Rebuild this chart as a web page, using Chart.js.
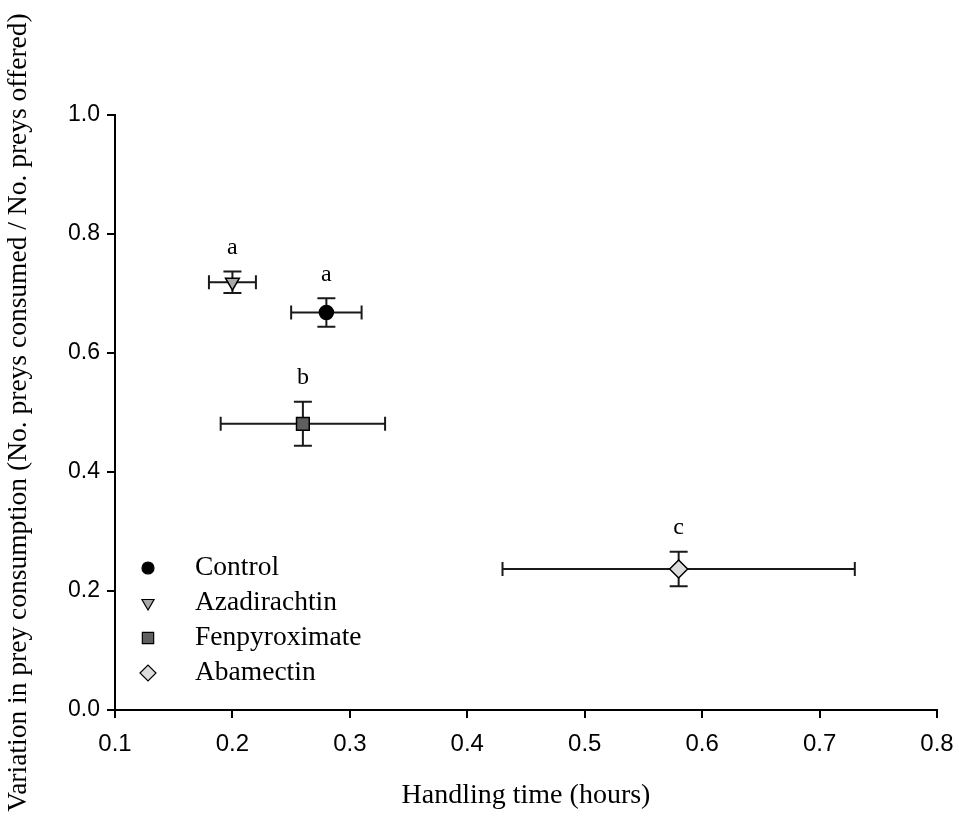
<!DOCTYPE html>
<html>
<head>
<meta charset="utf-8">
<script src="https://cdn.jsdelivr.net/npm/chart.js@4.4.1/dist/chart.umd.min.js"></script>
<style>
  html, body { margin: 0; padding: 0; background: #fff; }
  #wrap { width: 959px; height: 821px; }
</style>
</head>
<body>
<div id="wrap"><canvas id="chart" width="959" height="821"></canvas></div>
<script>
// --- Data ---
const treatments = ['Control', 'Azadirachtin', 'Fenpyroximate', 'Abamectin'];
const handlingTime = [0.28, 0.20, 0.26, 0.58];      // x (hours)
const handlingErr = [0.03, 0.02, 0.07, 0.15];       // x error
const consumption = [0.668, 0.719, 0.481, 0.237];   // y
const consumptionErr = [0.024, 0.018, 0.037, 0.029]; // y error
const groupLetters = ['a', 'a', 'b', 'c'];
const xTicks = [0.1, 0.2, 0.3, 0.4, 0.5, 0.6, 0.7, 0.8];
const yTicks = [0.0, 0.2, 0.4, 0.6, 0.8, 1.0];

// marker look for each treatment
const markerStyle = ['circle', 'triangle', 'rect', 'rectRot'];
const markerRotation = [0, 180, 0, 0];
const markerFill = ['#000000', '#a8a8a8', '#5f5f5f', '#dcdcdc'];
const markerRadius = [7, 8, 9, 9];

const serif = '"Liberation Serif", "Times New Roman", serif';

const datasets = treatments.map((name, i) => ({
    label: name,
    data: [{ x: handlingTime[i], y: consumption[i] }],
    pointStyle: markerStyle[i],
    rotation: markerRotation[i],
    backgroundColor: markerFill[i],
    borderColor: '#000',
    borderWidth: 1.5,
    pointRadius: markerRadius[i],
    pointHoverRadius: markerRadius[i]
}));

// --- error bars, behind the markers ---
const errorBars = {
    id: 'errorBars',
    beforeDatasetsDraw(chart) {
        const { ctx, scales: { x, y } } = chart;
        ctx.save();
        ctx.strokeStyle = '#1a1a1a';
        ctx.lineWidth = 2;
        treatments.forEach((_, i) => {
            const px = x.getPixelForValue(handlingTime[i]);
            const py = y.getPixelForValue(consumption[i]);
            const x0 = x.getPixelForValue(handlingTime[i] - handlingErr[i]);
            const x1 = x.getPixelForValue(handlingTime[i] + handlingErr[i]);
            const y0 = y.getPixelForValue(consumption[i] - consumptionErr[i]);
            const y1 = y.getPixelForValue(consumption[i] + consumptionErr[i]);
            ctx.beginPath();
            // horizontal
            ctx.moveTo(x0, py); ctx.lineTo(x1, py);
            ctx.moveTo(x0, py - 7); ctx.lineTo(x0, py + 7);
            ctx.moveTo(x1, py - 7); ctx.lineTo(x1, py + 7);
            // vertical
            ctx.moveTo(px, y0); ctx.lineTo(px, y1);
            ctx.moveTo(px - 9, y0); ctx.lineTo(px + 9, y0);
            ctx.moveTo(px - 9, y1); ctx.lineTo(px + 9, y1);
            ctx.stroke();
        });
        ctx.restore();
    }
};

// --- significance letters and the in-plot legend ---
const annotations = {
    id: 'annotations',
    afterDatasetsDraw(chart) {
        const { ctx, scales: { x, y } } = chart;
        ctx.save();
        ctx.fillStyle = '#000';
        ctx.textAlign = 'center';
        ctx.textBaseline = 'middle';
        ctx.font = '24px ' + serif;
        groupLetters.forEach((letter, i) => {
            const px = x.getPixelForValue(handlingTime[i]);
            const top = y.getPixelForValue(consumption[i] + consumptionErr[i]);
            ctx.fillText(letter, px, top - 24);
        });

        // legend
        const legendX = 148;
        const legendTop = 568;
        const rowH = 35;
        ctx.textAlign = 'left';
        ctx.font = '27.5px ' + serif;
        treatments.forEach((name, i) => {
            const ly = legendTop + i * rowH;
            ctx.fillStyle = markerFill[i];
            ctx.strokeStyle = '#000';
            ctx.lineWidth = 1.2;
            Chart.helpers.drawPoint(ctx, {
                pointStyle: markerStyle[i],
                rotation: markerRotation[i],
                radius: markerRadius[i] - 1,
                borderWidth: 1.2
            }, legendX, ly);
            ctx.fillStyle = '#000';
            ctx.fillText(name, 195, ly);
        });
        ctx.restore();
    }
};

new Chart(document.getElementById('chart'), {
    type: 'scatter',
    data: { datasets },
    options: {
        responsive: false,
        animation: false,
        events: [],
        layout: { padding: { top: 115, right: 22, left: 0, bottom: 0 } },
        plugins: {
            legend: { display: false },
            tooltip: { enabled: false }
        },
        scales: {
            x: {
                type: 'linear',
                min: 0.1,
                max: 0.8,
                afterBuildTicks: (scale) => { scale.ticks = xTicks.map(v => ({ value: v })); },
                afterFit: (scale) => {
                    scale.height = 111;
                    scale.paddingLeft = 0;
                    scale.paddingRight = 0;
                },
                border: { color: '#000', width: 2 },
                grid: { drawOnChartArea: false, drawTicks: true, tickLength: 8, color: '#000', lineWidth: 2 },
                ticks: {
                    color: '#000',
                    padding: 12,
                    maxRotation: 0,
                    font: { family: '"Liberation Sans Narrow", "Liberation Sans", Arial, sans-serif', size: 24 },
                    callback: (v) => Number(v).toFixed(1)
                },
                title: {
                    display: true,
                    text: 'Handling time (hours)',
                    color: '#000',
                    font: { family: serif, size: 28 },
                    padding: { top: 0, bottom: 9 }
                }
            },
            y: {
                type: 'linear',
                min: 0,
                max: 1,
                afterBuildTicks: (scale) => { scale.ticks = yTicks.map(v => ({ value: v })); },
                afterFit: (scale) => { scale.width = 115; },
                border: { color: '#000', width: 2 },
                grid: { drawOnChartArea: false, drawTicks: true, tickLength: 8, color: '#000', lineWidth: 2 },
                ticks: {
                    color: '#000',
                    padding: 7,
                    font: { family: '"Liberation Sans", Arial, sans-serif', size: 23 },
                    callback: (v) => Number(v).toFixed(1)
                },
                title: {
                    display: true,
                    text: 'Variation in prey consumption (No. preys consumed / No. preys offered)',
                    color: '#000',
                    font: { family: serif, size: 27.5 },
                    padding: { top: 2, bottom: 0 }
                }
            }
        }
    },
    plugins: [errorBars, annotations]
});
</script>
</body>
</html>
